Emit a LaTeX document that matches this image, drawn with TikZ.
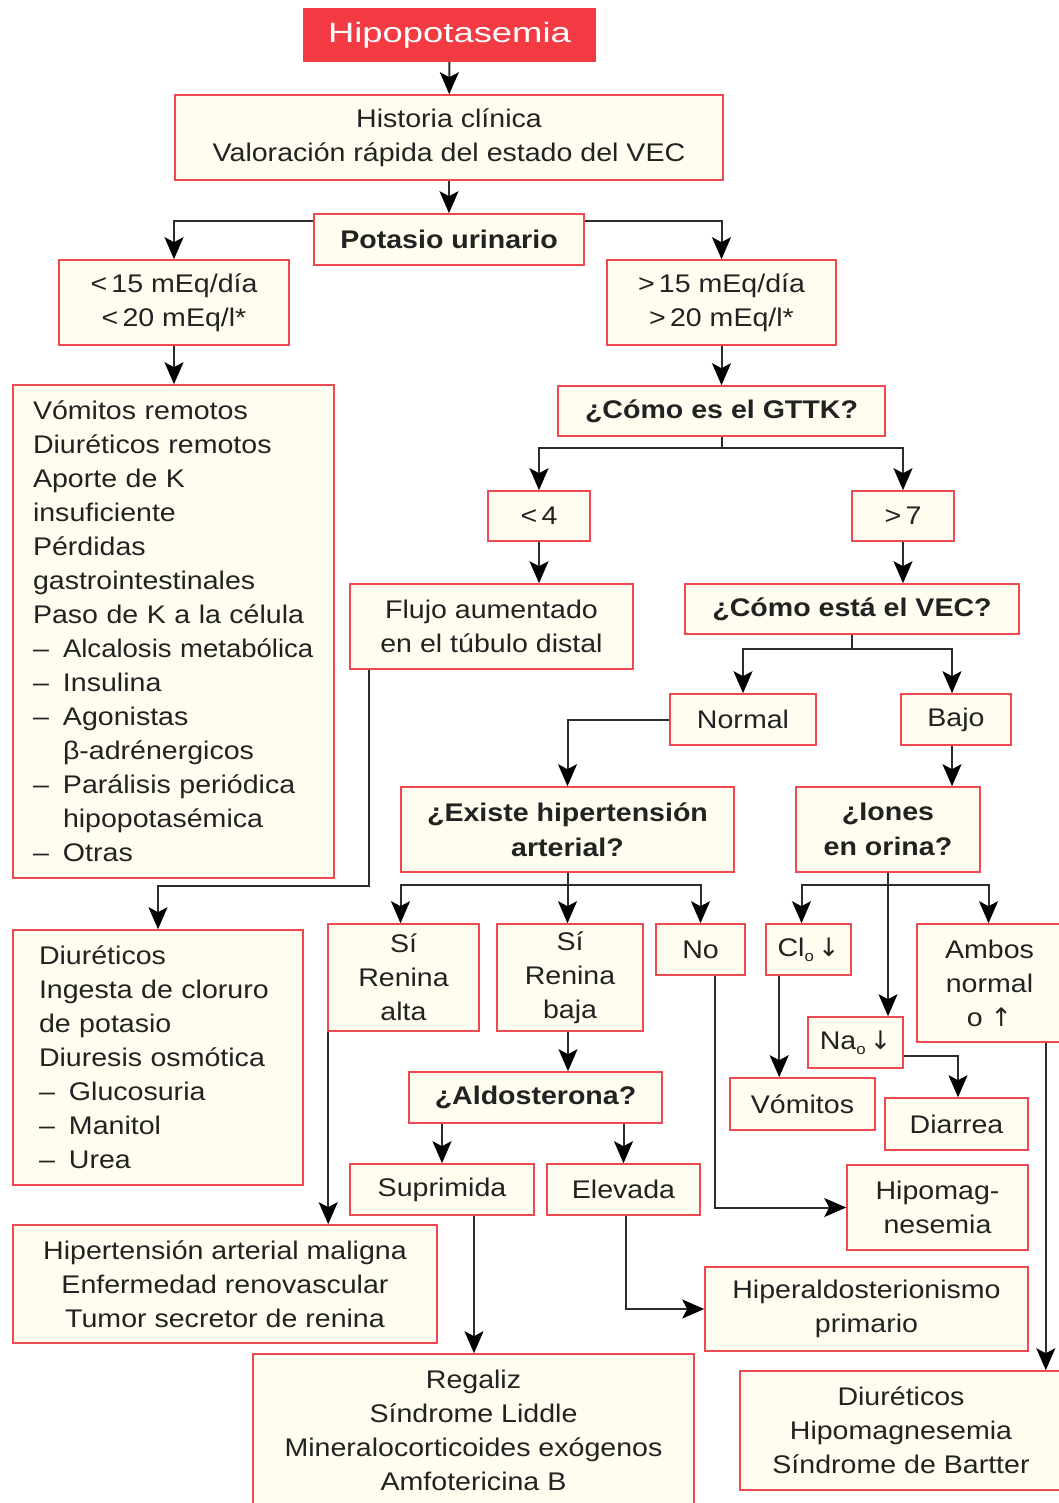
\documentclass[tikz,border=0pt]{standalone}
\usepackage{fontspec}
\setmainfont{Liberation Sans}[FakeStretch=1.12]
\newfontfamily\headfont{Liberation Sans}[FakeStretch=1.3]
\newfontfamily\arrfont{DejaVu Sans}
\usetikzlibrary{arrows.meta}
\definecolor{boxred}{RGB}{238,72,80}
\definecolor{boxfill}{RGB}{255,253,240}
\definecolor{headred}{RGB}{244,58,66}
\definecolor{txt}{RGB}{34,34,34}
\definecolor{linec}{RGB}{45,45,45}
\newcommand\litem{\makebox[30pt][l]{–}}
\newcommand\sub[1]{\raisebox{-5pt}{\fontsize{15}{15}\selectfont #1}}
\newcommand\dn{{\arrfont ↓}}
\newcommand\up{{\arrfont ↑}}
\begin{document}
\begin{tikzpicture}[x=1pt,y=-1pt,
  box/.style={draw=boxred, fill=boxfill, line width=1.6pt, inner sep=0pt, align=center, text=txt,
    font=\fontsize{25.5}{34}\selectfont},
  sz/.style 2 args={minimum width=#1pt, minimum height=#2pt},
  bold/.style={font=\fontsize{25.5}{35}\selectfont\bfseries},
  arr/.style={draw=linec, line width=2pt, -{Stealth[length=22pt,width=19pt,inset=5pt,color=black]}},
  ln/.style={draw=linec, line width=2pt}]
\clip (0,0) rectangle (1059,1503);
\fill[white] (0,0) rectangle (1059,1503);

\node[box, fill=headred, draw=headred, text=white, sz={291}{52}, font=\headfont\fontsize{28}{34}\selectfont] (head) at (449.5,35) {Hipopotasemia};
\node[box, sz={548}{85}] (hist) at (449,137.5) {Historia clínica\\Valoración rápida del estado del VEC};
\node[box, bold, sz={270}{51}] (pot) at (449,239.5) {Potasio urinario};
\node[box, sz={230}{85}] (lt15) at (174,302.5) {<\,15 mEq/día\\<\,20 mEq/l*};
\node[box, sz={229}{85}] (gt15) at (721.5,302.5) {>\,15 mEq/día\\>\,20 mEq/l*};
\node[box, sz={321}{493}, align=left, text width=281pt] (list1) at (173.5,631.5) {Vómitos remotos\\
Diuréticos remotos\\
Aporte de K\\
insuficiente\\
Pérdidas\\
gastrointestinales\\
\mbox{Paso de K a la célula}\\
\mbox{\litem\addfontfeature{FakeStretch=1.08}Alcalosis metabólica}\\
\litem Insulina\\
\litem Agonistas\\
\hspace*{30pt}β-adrénergicos\\
\mbox{\litem Parálisis periódica}\\
\hspace*{30pt}hipopotasémica\\
\litem Otras};
\node[box, bold, sz={327}{50}] (gttk) at (721.5,411) {¿Cómo es el GTTK?};
\node[box, sz={102}{50}] (lt4) at (539,516) {<\,4};
\node[box, sz={102}{50}] (gt7) at (903,516) {>\,7};
\node[box, sz={283}{85}] (flujo) at (491.5,626.5) {Flujo aumentado\\en el túbulo distal};
\node[box, bold, sz={334}{50}] (vec) at (852,609) {¿Cómo está el VEC?};
\node[box, sz={146}{51}] (normal) at (743,719.5) {Normal};
\node[box, sz={110}{51}] (bajo) at (956,719.5) {Bajo};
\node[box, bold, sz={333}{85}] (existe) at (567.5,829.5) {¿Existe hipertensión\\arterial?};
\node[box, bold, sz={184}{85}] (iones) at (888,829.5) {¿Iones\\en orina?};
\node[box, sz={290}{255}, align=left, text width=238pt] (list2) at (158,1057.5) {Diuréticos\\
\mbox{Ingesta de cloruro}\\
de potasio\\
\mbox{Diuresis osmótica}\\
\litem Glucosuria\\
\litem Manitol\\
\litem Urea};
\node[box, sz={151}{107}] (sialta) at (403.5,977.5) {Sí\\Renina\\alta};
\node[box, sz={146}{107}] (sibaja) at (570,977.5) {Sí\\Renina\\baja};
\node[box, sz={89}{51}] (no) at (700.5,949.5) {No};
\node[box, sz={85}{51}] (cl) at (808.5,949.5) {Cl\sub{o}\,\dn};
\node[box, sz={145}{118}] (ambos) at (989.5,983) {Ambos\\normal\\o \up};
\node[box, sz={95}{51}] (na) at (855.5,1042.5) {Na\sub{o}\,\dn};
\node[box, sz={145}{52}] (vom) at (802.5,1104) {Vómitos};
\node[box, sz={143}{52}] (diarrea) at (956.5,1124) {Diarrea};
\node[box, bold, sz={253}{51}] (aldo) at (535.5,1097.5) {¿Aldosterona?};
\node[box, sz={184}{51}] (supr) at (442,1189.5) {Suprimida};
\node[box, sz={153}{51}] (elev) at (623.5,1189.5) {Elevada};
\node[box, sz={181}{85}] (hipomag) at (937.5,1207.5) {Hipomag-\\nesemia};
\node[box, sz={424}{118}] (hta) at (225,1284) {Hipertensión arterial maligna\\Enfermedad renovascular\\Tumor secretor de renina};
\node[box, sz={323}{84}] (hiperaldo) at (866.5,1309) {Hiperaldosterionismo\\primario};
\node[box, sz={441}{153}] (regaliz) at (473.5,1430.5) {Regaliz\\Síndrome Liddle\\Mineralocorticoides exógenos\\Amfotericina B};
\node[box, sz={322}{119}] (diur2) at (901,1430.5) {Diuréticos\\Hipomagnesemia\\Síndrome de Bartter};

% connectors
\draw[arr] (head) -- (hist);
\draw[arr] (hist) -- (pot);
\draw[arr] ([yshift=-8pt]pot.north west) -| (lt15.north);
\draw[arr] ([yshift=-8pt]pot.north east) -| (gt15.north);
\draw[arr] (lt15.south) -- (lt15.south |- list1.north);
\draw[arr] (gt15.south) -- (gttk.north);
\draw[ln] (gttk.south) -- ++(0,11) coordinate (g1);
\draw[arr] (g1) -| (lt4.north);
\draw[arr] (g1) -| (gt7.north);
\draw[arr] (lt4.south) -- (lt4.south |- flujo.north);
\draw[arr] (gt7.south) -- (gt7.south |- vec.north);
\draw[arr] ([xshift=20pt]flujo.south west) |- ([yshift=43pt]list2.north) -- (list2.north);
\draw[ln] (vec.south) -- ++(0,14) coordinate (v1);
\draw[arr] (v1) -| (normal.north);
\draw[arr] (v1) -| ([xshift=-4pt]bajo.north);
\draw[arr] (normal.west) -| (existe.north);
\draw[arr] ([xshift=-4pt]bajo.south) -- ([xshift=-4pt]bajo.south |- iones.north);
\draw[arr] (existe.south) -- (existe.south |- sibaja.north);
\coordinate (e1) at ([yshift=-12pt]existe.south);
\draw[arr] (e1) -| ([xshift=-3pt]sialta.north);
\draw[arr] (e1) -| (no.north);
\draw[arr] (iones.south) -- (iones.south |- na.north);
\coordinate (i1) at ([yshift=-12pt]iones.south);
\draw[arr] (i1) -| ([xshift=-7pt]cl.north);
\draw[arr] (i1) -| ([xshift=-1pt]ambos.north);
\draw[arr] ([xshift=14pt]cl.south west) -- ([xshift=14pt]cl.south west |- vom.north);
\draw[arr] ([yshift=-13.5pt]na.east) -| ([xshift=1.5pt]diarrea.north);
\draw[arr] ([xshift=-17pt]ambos.south east) -- ([xshift=-17pt]ambos.south east |- diur2.north);
\draw[arr] ([xshift=1pt]sialta.south west) -- ([xshift=1pt]sialta.south west |- hta.north);
\draw[arr] ([xshift=-2pt]sibaja.south) -- ([xshift=-2pt]sibaja.south |- aldo.north);
\draw[arr] (aldo.south -| supr.north) -- (supr.north);
\draw[arr] (aldo.south -| elev.north) -- (elev.north);
\draw[arr] ([xshift=60pt]no.south west) |- (hipomag.west);
\draw[arr] ([xshift=32pt]supr.south) -- ([xshift=32pt]supr.south |- regaliz.north);
\draw[arr] ([xshift=2pt]elev.south) |- (hiperaldo.west);
\end{tikzpicture}
\end{document}
